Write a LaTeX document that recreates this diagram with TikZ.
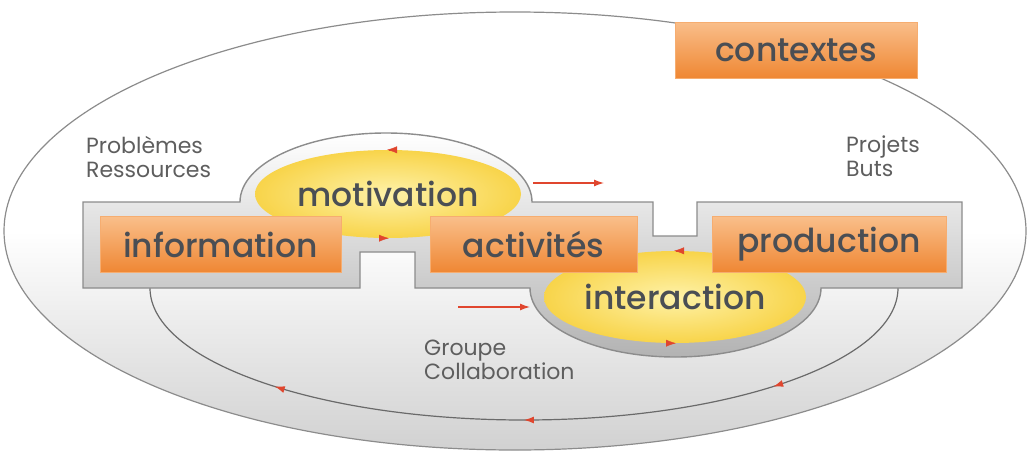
\documentclass[tikz,border=0pt]{standalone}
\usepackage{fontspec}
\setmainfont{Poppins}
\newfontfamily\stagefont{Poppins}[UprightFont=* Medium]
\usepackage{tikz}
\usetikzlibrary{shapes.geometric,arrows.meta,decorations.markings,positioning}

\definecolor{lineGray}{HTML}{8C8C8C}
\definecolor{loopGray}{HTML}{6A6A6A}
\definecolor{noteGray}{HTML}{5E5E5E}
\definecolor{boxText}{HTML}{4A4E54}
\definecolor{orangeTop}{HTML}{F9BE8A}
\definecolor{orangeBot}{HTML}{EF8733}
\definecolor{yellowIn}{HTML}{FEF2A8}
\definecolor{yellowOut}{HTML}{F8D44A}
\definecolor{flowRed}{HTML}{E0462E}

\tikzset{
  stagebox/.style={rectangle, inner sep=0pt, minimum height=56pt,
    top color=orangeTop, bottom color=orangeBot,
    draw=orangeTop!70!orangeBot, line width=0.6pt,
    text=boxText, font=\fontsize{33}{33}\stagefont},
  bubble/.style={ellipse, inner sep=0pt,
    inner color=yellowIn, outer color=yellowOut,
    text=boxText, font=\fontsize{33}{33}\stagefont},
  note/.style={align=left, inner sep=0pt, text=noteGray,
    font=\fontsize{22}{24}\selectfont},
  flow/.style={flowRed, line width=1.3pt, -{Latex[length=10pt,width=7pt]}},
  flowtip/.style={flowRed, -{Latex[length=10pt,width=7pt]}},
  frameline/.style={draw=lineGray, line width=1.4pt,
    top color=white, bottom color=black!30},
  loopline/.style={draw=loopGray, line width=1.2pt,
    postaction={decorate},
    decoration={markings,
      mark=at position 0.2 with {\arrow[flowRed]{Latex[length=10pt,width=7pt]}},
      mark=at position 0.5 with {\arrow[flowRed]{Latex[length=10pt,width=7pt]}},
      mark=at position 0.8 with {\arrow[flowRed]{Latex[length=10pt,width=7pt]}}}}
}

\begin{document}
\begin{tikzpicture}[x=1pt,y=-1pt]
  \useasboundingbox (0,0) rectangle (1028,458);

  % context
  \draw[lineGray, line width=1.2pt, top color=white, bottom color=black!18,
        middle color=white] (515,231) ellipse[x radius=511, y radius=219];

  % group loop
  \coordinate (loopR) at (898,288);
  \coordinate (loopB) at (524,420);
  \coordinate (loopL) at (150,288);
  \draw[loopline] (loopR) .. controls (898,361) and (731,420) .. (loopB)
                         .. controls (317,420) and (150,361) .. (loopL);

  % frame
  \path[frameline] (83,202) -- (240,202)
    arc[start angle=180, end angle=360, x radius=146, y radius=69]
    -- (653,202) -- (653,236) -- (697,236) -- (697,202) -- (962,202)
    -- (962,288) -- (821,288)
    arc[start angle=0, end angle=180, x radius=145.5, y radius=69]
    -- (415,288) -- (415,252) -- (360,252) -- (360,288) -- (83,288) -- cycle;

  \node[bubble, minimum width=266pt, minimum height=88pt] (mot) at (388,194) {motivation};
  \node[bubble, minimum width=262pt, minimum height=92pt] (int) at (675,297) {interaction};

  \node[stagebox, minimum width=241pt] (info) at (220.5,244.5) {information};
  \node[stagebox, minimum width=207pt] (act) at (533.5,244.5) {activités};
  \node[stagebox, minimum width=234pt] (prod) at (829,244.5) {production};
  \node[stagebox, minimum width=242pt] (ctx) at (796,50) {contextes};

  \node[note, anchor=north west] (prob) at (86,136) {Problèmes\\Ressources};
  \node[note, anchor=north west] (proj) at (846,136) {Projets\\Buts};
  \node[note, anchor=north west] (grp) at (424,340) {Groupe\\Collaboration};

  % flows
  \coordinate (motOut) at (533,183);
  \coordinate (motOutEnd) at (604,183);
  \coordinate (intInStart) at (458,307);
  \coordinate (intIn) at (530,307);
  \draw[flow] (motOut) -- (motOutEnd);
  \draw[flow] (intInStart) -- (intIn);
  \draw[flowtip] ([xshift=1pt]mot.north) -- ([xshift=-1pt]mot.north);
  \draw[flowtip] ([xshift=-1pt]mot.south) -- ([xshift=1pt]mot.south);
  \draw[flowtip] ([xshift=1pt]int.north) -- ([xshift=-1pt]int.north);
  \draw[flowtip] ([xshift=-1pt]int.south) -- ([xshift=1pt]int.south);
\end{tikzpicture}
\end{document}
